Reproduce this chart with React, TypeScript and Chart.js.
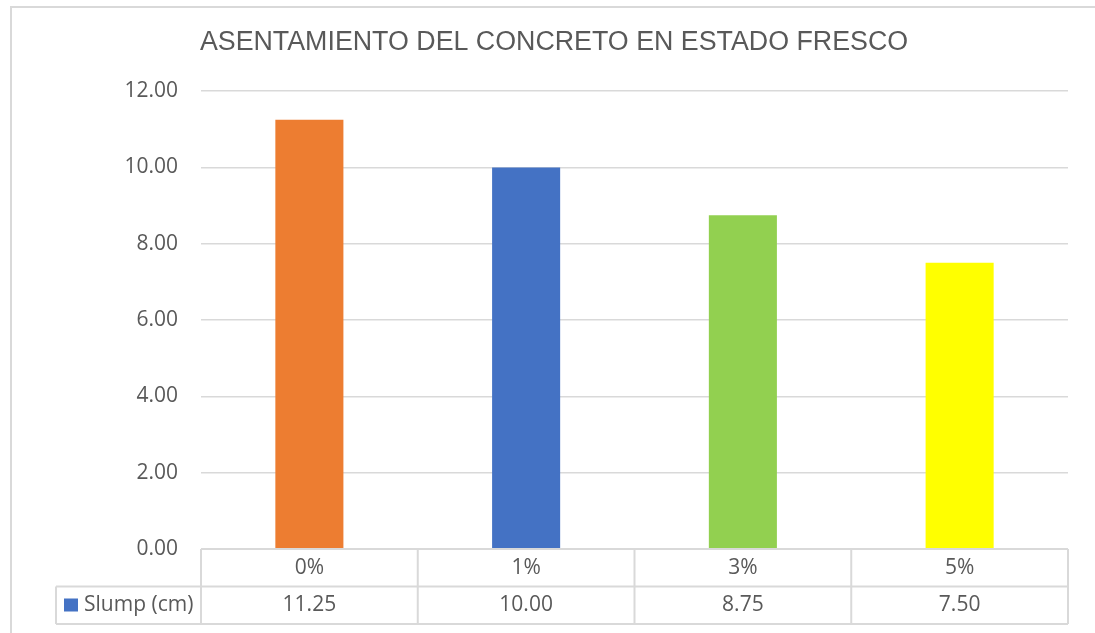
import React, { useEffect, useRef } from "react";
import { Chart, registerables } from "chart.js";

Chart.register(...registerables);

const titleText = "ASENTAMIENTO DEL CONCRETO EN ESTADO FRESCO";
const categories = ["0%", "1%", "3%", "5%"];
const slumpValues = [11.25, 10.0, 8.75, 7.5];
const barColors = ["#ED7D31", "#4472C4", "#92D050", "#FFFF00"];
const seriesLabel = "Slump (cm)";
const seriesColor = "#4472C4";
const yMin = 0;
const yMax = 12;
const yStep = 2;

const TEXT_COLOR = "#595959";
const GRID_COLOR = "#d9d9d9";
const LABEL_FONT = "'Open Sans', 'DejaVu Sans', sans-serif";

const tablePlugin = {
  id: "excelDataTable",
  beforeDraw(chart: any) {
    const { ctx, width, height } = chart;
    ctx.save();
    ctx.fillStyle = "#ffffff";
    ctx.fillRect(0, 0, width, height);
    ctx.strokeStyle = GRID_COLOR;
    ctx.lineWidth = 2;
    ctx.beginPath();
    ctx.moveTo(11, height);
    ctx.lineTo(11, 7);
    ctx.lineTo(width, 7);
    ctx.stroke();
    ctx.restore();
  },
  afterDraw(chart: any) {
    const { ctx, chartArea } = chart;
    const xScale = chart.scales.x;
    const left = chartArea.left;
    const right = chartArea.right;
    const top = chartArea.bottom;
    const rowH = 37.5;
    const n = categories.length;
    const colW = (right - left) / n;
    const legendLeft = 56;
    ctx.save();
    ctx.strokeStyle = GRID_COLOR;
    ctx.lineWidth = 2;
    const line = (x1: number, y1: number, x2: number, y2: number) => {
      ctx.beginPath();
      ctx.moveTo(x1, y1);
      ctx.lineTo(x2, y2);
      ctx.stroke();
    };
    line(left, top, right, top);
    line(legendLeft, top + rowH, right, top + rowH);
    line(legendLeft, top + 2 * rowH, right, top + 2 * rowH);
    for (let i = 0; i <= n; i++) {
      const x = left + i * colW;
      line(x, top, x, top + 2 * rowH);
    }
    line(legendLeft, top + rowH, legendLeft, top + 2 * rowH);

    ctx.fillStyle = TEXT_COLOR;
    ctx.font = `21px ${LABEL_FONT}`;
    ctx.textAlign = "center";
    ctx.textBaseline = "middle";
    categories.forEach((c, i) => {
      ctx.fillText(c, xScale.getPixelForValue(i), top + rowH / 2);
    });
    slumpValues.forEach((v, i) => {
      ctx.fillText(v.toFixed(2), xScale.getPixelForValue(i), top + rowH * 1.5);
    });
    ctx.fillStyle = seriesColor;
    ctx.fillRect(64, top + rowH + 12, 14, 13);
    ctx.fillStyle = TEXT_COLOR;
    ctx.textAlign = "left";
    ctx.fillText(seriesLabel, 84, top + rowH * 1.5);
    ctx.restore();
  },
};

export default function App() {
  const canvasRef = useRef<HTMLCanvasElement | null>(null);

  useEffect(() => {
    if (!canvasRef.current) return;
    const chart = new Chart(canvasRef.current, {
      type: "bar",
      data: {
        labels: categories,
        datasets: [
          {
            label: seriesLabel,
            data: slumpValues,
            backgroundColor: barColors,
            borderWidth: 0,
            barPercentage: 0.314,
            categoryPercentage: 1,
          },
        ],
      },
      options: {
        responsive: true,
        maintainAspectRatio: false,
        animation: false,
        layout: { padding: { left: 40, right: 27, top: 0, bottom: 84 } },
        plugins: {
          legend: { display: false },
          tooltip: { enabled: false },
          title: {
            display: true,
            text: titleText,
            color: TEXT_COLOR,
            font: { family: "'Liberation Sans', Arial, sans-serif", size: 26.8, weight: "normal", lineHeight: 1.2 },
            padding: { top: 27, bottom: 32 },
          },
        },
        scales: {
          x: { display: false },
          y: {
            min: yMin,
            max: yMax,
            afterFit: (scale: any) => {
              scale.width = 161;
            },
            border: { display: false },
            grid: { color: GRID_COLOR, lineWidth: 1.5, drawTicks: false },
            ticks: {
              stepSize: yStep,
              padding: 23,
              color: TEXT_COLOR,
              font: { family: LABEL_FONT, size: 21 },
              callback: (v: any) => Number(v).toFixed(2),
            },
          },
        },
      },
      plugins: [tablePlugin],
    });
    return () => chart.destroy();
  }, []);

  return (
    <div style={{ position: "fixed", left: 0, top: 0, width: 1095, height: 633, background: "#fff" }}>
      <canvas ref={canvasRef} />
    </div>
  );
}
